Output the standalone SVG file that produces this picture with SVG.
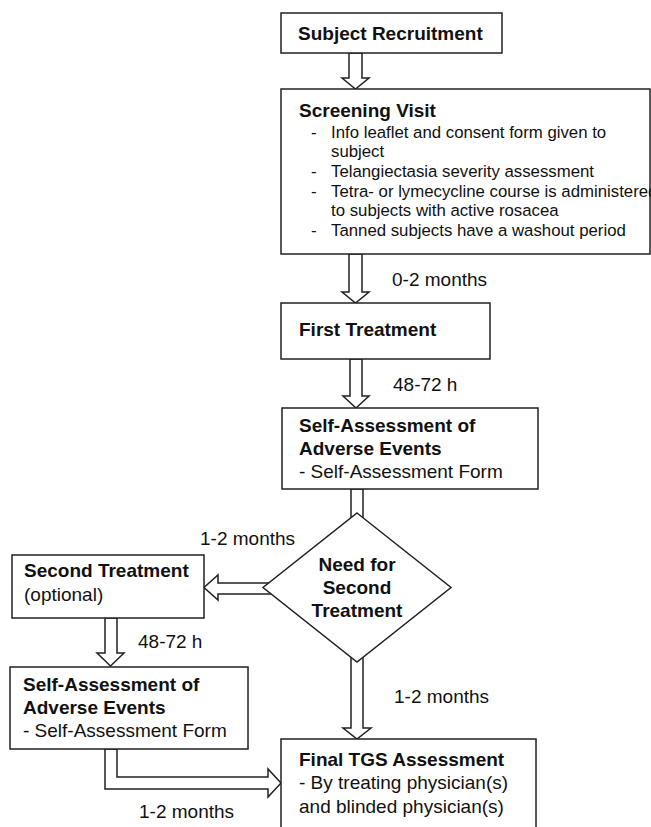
<svg xmlns="http://www.w3.org/2000/svg" width="651" height="827" viewBox="0 0 651 827">
<style>
.box{fill:#fff;stroke:#222;stroke-width:1.5}
.arr{fill:#fff;stroke:#222;stroke-width:1.5;stroke-linejoin:miter}
text{font-family:"Liberation Sans",Arial,sans-serif;fill:#111}
.b{font-weight:bold;font-size:19px}
.r{font-size:19px}
.s{font-size:16.8px}
.c{text-anchor:middle}
</style>
<rect width="651" height="827" fill="#fff"/>
<g id="connectors">
<polygon class="arr" points="349,53 362,53 362,78 369,78 355.5,89 342,78 349,78"/>
<polygon class="arr" points="349,254 362,254 362,292 369,292 355.5,303 342,292 349,292"/>
<polygon class="arr" points="350,359 362,359 362,396 369,396 356,408 343,396 350,396"/>
<polygon class="arr" points="351,489 363,489 363,535 351,535"/>
<polygon class="arr" points="351,645 363,645 363,728 371,728 357,739 343,728 351,728"/>
<polygon class="arr" points="280,583 218,583 218,575 204,587.5 218,600 218,594 280,594"/>
<polygon class="arr" points="105,618 117,618 117,653 124,653 110.5,666 97,653 105,653"/>
<polygon class="arr" points="105,749 105,789 268,789 268,797 281,783 268,769 268,777 117,777 117,749"/>
<text class="r" x="392" y="286">0-2 months</text>
<text class="r" x="393" y="391">48-72 h</text>
<text class="r" x="200" y="545">1-2 months</text>
<text class="r" x="138" y="648">48-72 h</text>
<text class="r" x="394" y="703">1-2 months</text>
<text class="r" x="139" y="818">1-2 months</text>
</g>
<g id="subject-recruitment">
<rect class="box" x="281" y="13" width="221" height="40"/>
<text class="b" x="298" y="40">Subject Recruitment</text>
</g>
<g id="screening-visit">
<rect class="box" x="281" y="89" width="369" height="165"/>
<text class="b" x="299" y="117">Screening Visit</text>
<text class="s" x="311" y="137.5">-</text>
<text class="s" x="331" y="137.5">Info leaflet and consent form given to</text>
<text class="s" x="331" y="157.2">subject</text>
<text class="s" x="311" y="176.9">-</text>
<text class="s" x="331" y="176.9">Telangiectasia severity assessment</text>
<text class="s" x="311" y="196.6">-</text>
<text class="s" x="331" y="196.6">Tetra- or lymecycline course is administered</text>
<text class="s" x="331" y="216.3">to subjects with active rosacea</text>
<text class="s" x="311" y="236">-</text>
<text class="s" x="331" y="236">Tanned subjects have a washout period</text>
</g>
<g id="first-treatment">
<rect class="box" x="281" y="303" width="209" height="56"/>
<text class="b" x="299" y="336">First Treatment</text>
</g>
<g id="self-assessment-1">
<rect class="box" x="282" y="408" width="256" height="81"/>
<text class="b" x="299" y="432">Self-Assessment of</text>
<text class="b" x="299" y="455">Adverse Events</text>
<text class="r" x="299" y="478">- Self-Assessment Form</text>
</g>
<g id="decision">
<polygon class="box" points="357,513 451,587.5 357,662 263,587.5"/>
<text class="b c" x="357" y="571">Need for</text>
<text class="b c" x="357" y="594">Second</text>
<text class="b c" x="357" y="617">Treatment</text>
</g>
<g id="second-treatment">
<rect class="box" x="12" y="555" width="192" height="63"/>
<text class="b" x="24" y="577">Second Treatment</text>
<text class="r" x="24" y="601">(optional)</text>
</g>
<g id="self-assessment-2">
<rect class="box" x="10" y="667" width="238" height="82"/>
<text class="b" x="23" y="691">Self-Assessment of</text>
<text class="b" x="23" y="714">Adverse Events</text>
<text class="r" x="23" y="737">- Self-Assessment Form</text>
</g>
<g id="final-assessment">
<rect class="box" x="281" y="739" width="255" height="95"/>
<text class="b" x="299" y="766">Final TGS Assessment</text>
<text class="r" x="299" y="789">- By treating physician(s)</text>
<text class="r" x="299" y="813">and blinded physician(s)</text>
</g>
</svg>
